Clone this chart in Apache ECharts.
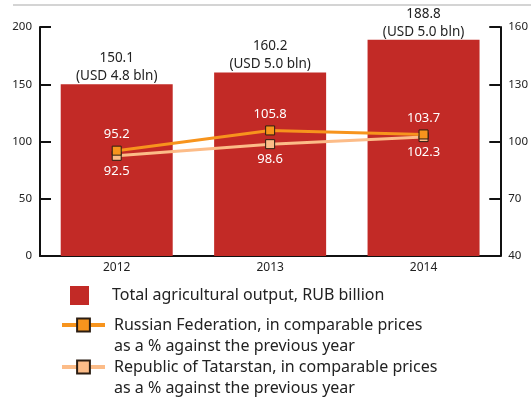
<!DOCTYPE html>
<html>
<head>
<meta charset="utf-8">
<script src="https://cdn.jsdelivr.net/npm/echarts@6/dist/echarts.min.js"></script>
<style>
  html, body { margin: 0; padding: 0; background: #fff; }
  #chart { width: 531px; height: 400px; }
</style>
</head>
<body>
<div id="chart"></div>
<script>
  // data
  const years = ['2012', '2013', '2014'];
  const outputRub = [150.1, 160.2, 188.8];
  const outputUsd = [4.8, 5.0, 5.0];
  const russiaIndex = [95.2, 105.8, 103.7];
  const tatarstanIndex = [92.5, 98.6, 102.3];

  const nameBar = 'Total agricultural output, RUB billion';
  const nameRu = 'Russian Federation, in comparable prices\nas a % against the previous year';
  const nameTat = 'Republic of Tatarstan, in comparable prices\nas a % against the previous year';

  const font = 'Noto Sans';
  const axisColor = '#111';

  const chart = echarts.init(document.getElementById('chart'));

  // blank first line so the icon sits level with the first text line
  const twoLine = (name) => '\n' + name;

  chart.setOption({
    animation: false,
    textStyle: { fontFamily: font },
    grid: { left: 40, right: 26, top: 27, bottom: 144 },
    // thin grey rule at the very top
    graphic: [{
      type: 'line',
      shape: { x1: 13, y1: 5, x2: 531, y2: 5 },
      style: { stroke: '#d4d4d4', lineWidth: 2 }
    }],
    xAxis: {
      type: 'category',
      data: years,
      boundaryGap: true,
      axisLine: { lineStyle: { color: axisColor, width: 2 } },
      axisTick: { inside: true, length: 5, alignWithLabel: false, lineStyle: { color: axisColor, width: 2 } },
      axisLabel: { color: '#222', fontSize: 12, margin: 6, fontFamily: font }
    },
    yAxis: [{
      type: 'value',
      min: 0,
      max: 200,
      interval: 50,
      axisLine: { show: true, lineStyle: { color: axisColor, width: 2 } },
      axisTick: { show: true, inside: true, length: 11, lineStyle: { color: axisColor, width: 2 } },
      axisLabel: { color: '#222', fontSize: 11.5, margin: 8, fontFamily: font, padding: [4, 0, 0, 0] },
      splitLine: { show: false }
    }, {
      type: 'value',
      min: 40,
      max: 160,
      interval: 30,
      position: 'right',
      axisLine: { show: true, lineStyle: { color: axisColor, width: 2 } },
      axisTick: { show: true, inside: true, length: 11, lineStyle: { color: axisColor, width: 2 } },
      axisLabel: { color: '#222', fontSize: 11.5, margin: 8, fontFamily: font, padding: [4, 0, 0, 0] },
      splitLine: { show: false }
    }],
    legend: [{
      left: 70,
      top: 285,
      padding: 0,
      selectedMode: false,
      itemWidth: 19,
      itemHeight: 19,
      data: [{ name: nameBar, icon: 'rect' }],
      textStyle: { color: '#222', fontSize: 16, lineHeight: 21, padding: [0, 0, 0, 18], fontFamily: font }
    }, {
      left: 60,
      top: 293.5,
      padding: 0,
      selectedMode: false,
      itemWidth: 43,
      itemHeight: 16,
      data: [nameRu],
      formatter: twoLine,
      lineStyle: { width: 4 },
      textStyle: { color: '#222', fontSize: 16, lineHeight: 21, padding: [0, 0, 0, 4], fontFamily: font }
    }, {
      left: 60,
      top: 335.5,
      padding: 0,
      selectedMode: false,
      itemWidth: 43,
      itemHeight: 16,
      data: [nameTat],
      formatter: twoLine,
      lineStyle: { width: 4 },
      textStyle: { color: '#222', fontSize: 16, lineHeight: 21, padding: [0, 0, 0, 4], fontFamily: font }
    }],
    series: [{
      name: nameBar,
      type: 'bar',
      data: outputRub,
      yAxisIndex: 0,
      barCategoryGap: '27%',
      itemStyle: { color: '#c22a26' },
      label: {
        show: true,
        position: 'top',
        distance: -1,
        color: '#222',
        fontSize: 13.5,
        lineHeight: 18,
        fontFamily: font,
        formatter: (p) => p.value.toFixed(1) + '\n(USD ' + outputUsd[p.dataIndex].toFixed(1) + ' bln)'
      }
    }, {
      name: nameTat,
      type: 'line',
      data: tatarstanIndex,
      yAxisIndex: 1,
      z: 3,
      symbol: 'rect',
      symbolSize: 9,
      lineStyle: { color: '#fcbc88', width: 3 },
      itemStyle: { color: '#fcbc88', borderColor: '#2b1d12', borderWidth: 1 },
      label: {
        show: true,
        position: 'bottom',
        distance: 4,
        color: '#fff',
        fontSize: 13,
        fontFamily: font,
        formatter: (p) => p.value.toFixed(1)
      }
    }, {
      name: nameRu,
      type: 'line',
      data: russiaIndex,
      yAxisIndex: 1,
      z: 4,
      symbol: 'rect',
      symbolSize: 9,
      lineStyle: { color: '#f7941d', width: 3 },
      itemStyle: { color: '#f7941d', borderColor: '#2b1d12', borderWidth: 1 },
      label: {
        show: true,
        position: 'top',
        distance: 5,
        color: '#fff',
        fontSize: 13,
        fontFamily: font,
        formatter: (p) => p.value.toFixed(1)
      }
    }]
  });
</script>
</body>
</html>
